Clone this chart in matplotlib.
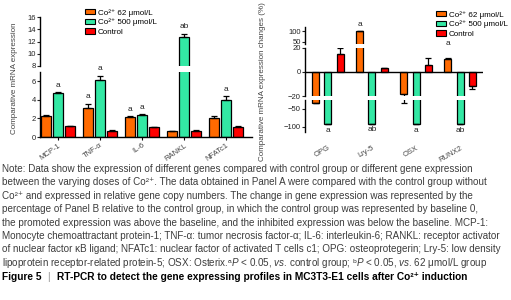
import matplotlib
matplotlib.use('Agg')
import matplotlib.pyplot as plt
from matplotlib.patches import Patch
import numpy as np

plt.rcParams['font.family'] = ['Liberation Sans', 'DejaVu Sans']
plt.rcParams['mathtext.fontset'] = 'custom'
plt.rcParams['mathtext.rm'] = 'Liberation Sans'
plt.rcParams['mathtext.it'] = 'Liberation Sans:italic'
plt.rcParams['mathtext.bf'] = 'Liberation Sans:bold'

# Panel A: relative copy numbers
genes_a = ['MCP-1', 'TNF-α', 'IL-6', 'RANKL', 'NFATc1']
a_low = [2.3, 3.1, 2.2, 0.6, 2.1]
a_low_err = [0.1, 0.5, 0.05, 0.03, 0.12]
a_high = [4.7, 6.1, 2.4, 12.7, 4.0]
a_high_err = [0.12, 0.5, 0.05, 0.6, 0.4]
a_ctrl = [1.15, 0.7, 1.05, 0.7, 1.1]
a_ctrl_err = [0.05, 0.03, 0.05, 0.05, 0.12]
a_sig_low = ['', 'a', 'a', '', '']
a_sig_high = ['a', 'a', 'a', 'ab', 'a']

# Panel B: % change vs control
genes_b = ['OPG', 'Lry-5', 'OSX', 'RUNX2']
b_low = [-33, 100, -18, 11]
b_low_err = [1.5, 0, 15, 0.7]
b_high = [-93, -92, -93, -93]
b_high_err = [0, 0, 0, 0]
b_ctrl = [15, 3, 6, -12]
b_ctrl_err = [5, 0.5, 6, 2]
b_sig_low = ['', 'a', '', 'a']
b_sig_high = ['a', 'ab', 'a', 'ab']

series_labels = ['Co²⁺ 62 μmol/L', 'Co²⁺ 500 μmol/L', 'Control']
colors = ['#ff6a00', '#33e8a4', '#ff0000']

W, H = 511, 300
fig = plt.figure(figsize=(W / 100, H / 100), dpi=100)


def add_ax(x0, x1, ytop, ybot):
    return fig.add_axes([x0 / W, 1 - ybot / H, (x1 - x0) / W, (ybot - ytop) / H])


def style(ax, bottom=False):
    for s in ['top', 'right']:
        ax.spines[s].set_visible(False)
    ax.spines['bottom'].set_visible(bottom)
    ax.spines['left'].set_linewidth(1.0)
    ax.spines['bottom'].set_linewidth(1.0)
    ax.tick_params(axis='y', labelsize=5.5, length=2, width=0.8, pad=1, colors='#222222')
    ax.patch.set_alpha(0)


def draw_bars(ax, x, vals, errs, color, width, capsize):
    ax.bar(x, vals, width, color=color, edgecolor='black', linewidth=0.9, zorder=2)
    vals = np.array(vals, dtype=float)
    errs = np.array(errs, dtype=float)
    lower = np.where(vals < 0, errs, 0)
    upper = np.where(vals >= 0, errs, 0)
    ax.errorbar(x, vals, yerr=[lower, upper], fmt='none', ecolor='black',
                elinewidth=0.9, capsize=capsize, capthick=0.9, zorder=3)


def small_legend(ax, x, y):
    ax.legend(handles=[Patch(facecolor=c, edgecolor='black', linewidth=0.8) for c in colors],
              labels=series_labels, loc='upper left', bbox_to_anchor=(x / W, 1 - y / H),
              bbox_transform=fig.transFigure, frameon=False, fontsize=5.8,
              handlelength=1.2, handleheight=0.6, handletextpad=0.4,
              labelspacing=0.25, borderpad=0, borderaxespad=0)


# ---------------- Panel A ----------------
ax_a_top = add_ax(40, 252, 17, 66)
ax_a_bot = add_ax(40, 252, 72, 137)
xa = np.arange(len(genes_a))
wa = 0.23
off_a = 0.28
for ax in (ax_a_top, ax_a_bot):
    for i, (v, e) in enumerate([(a_low, a_low_err), (a_high, a_high_err), (a_ctrl, a_ctrl_err)]):
        draw_bars(ax, xa + (i - 1) * off_a, v, e, colors[i], wa, 2.5)
    ax.set_xlim(-0.43, 4.62)

ax_a_top.set_ylim(8, 16)
ax_a_top.set_yticks([8, 10, 12, 14, 16])
ax_a_top.set_xticks([])
style(ax_a_top)
ax_a_bot.set_ylim(0, 7)
ax_a_bot.set_yticks([0, 2, 4, 6])
style(ax_a_bot, bottom=True)
ax_a_bot.set_xticks(xa)
ax_a_bot.set_xticklabels(genes_a, rotation=35, ha='right', rotation_mode='anchor',
                         fontsize=5.5, color='#444444')
ax_a_bot.tick_params(axis='x', length=2, width=0.8, pad=1.5)

for i in range(len(genes_a)):
    for j, (vals, errs, sig) in enumerate([(a_low, a_low_err, a_sig_low),
                                           (a_high, a_high_err, a_sig_high)]):
        if sig[i]:
            y = vals[i] + errs[i]
            ax = ax_a_top if y > 7 else ax_a_bot
            ax.annotate(sig[i], (xa[i] + (j - 1) * off_a, y), xytext=(0, 2.5),
                        textcoords='offset points', ha='center', va='bottom',
                        fontsize=6, color='#222222', annotation_clip=False)

fig.text(15 / W, 1 - 78 / H, 'Comparative mRNA expression', rotation=90,
         ha='center', va='center', fontsize=5.8, color='#444444')

small_legend(ax_a_top, 85, 9)

# ---------------- Panel B ----------------
ax_b_top = add_ax(305, 483, 27, 44)
ax_b_mid = add_ax(305, 483, 48, 96)
ax_b_bot = add_ax(305, 483, 100, 132)
xb = np.arange(len(genes_b))
wb = 0.16
off_b = 0.28
for ax in (ax_b_top, ax_b_mid, ax_b_bot):
    for i, (v, e) in enumerate([(b_low, b_low_err), (b_high, b_high_err), (b_ctrl, b_ctrl_err)]):
        draw_bars(ax, xb + (i - 1) * off_b, v, e, colors[i], wb, 2.0)
    ax.set_xlim(-0.52, 3.52)
    style(ax)
    ax.set_xticks([])

ax_b_top.set_ylim(39, 119)
ax_b_top.set_yticks([50, 100])
ax_b_mid.set_ylim(-20, 20)
ax_b_mid.set_yticks([-20, 0, 20])
ax_b_mid.axhline(0, color='black', linewidth=1.0, zorder=4)
ax_b_bot.set_ylim(-114, -25)
ax_b_bot.set_yticks([-50, -100])
ax_b_bot.set_xticks(xb)
ax_b_bot.set_xticklabels(genes_b, rotation=30, ha='right', rotation_mode='anchor',
                         fontsize=5.5, color='#444444')
ax_b_bot.tick_params(axis='x', length=0, pad=9)

for i in range(len(genes_b)):
    if b_sig_low[i]:
        ax_b_top.annotate(b_sig_low[i], (xb[i] - off_b, b_low[i] + b_low_err[i]),
                          xytext=(0, 2), textcoords='offset points', ha='center',
                          va='bottom', fontsize=6, color='#222222', annotation_clip=False)
    if b_sig_high[i]:
        ax_b_bot.annotate(b_sig_high[i], (xb[i], b_high[i] - b_high_err[i]),
                          xytext=(0, -1.5), textcoords='offset points', ha='center',
                          va='top', fontsize=6, color='#222222', annotation_clip=False)

fig.text(262 / W, 1 - 82 / H, 'Comparative mRNA expression changes (%)', rotation=90,
         ha='center', va='center', fontsize=5.8, color='#444444')

small_legend(ax_b_top, 436, 11)

# ---------------- Note and caption ----------------
note_lines = [
    'Note: Data show the expression of different genes compared with control group or different gene expression',
    'between the varying doses of Co²⁺. The data obtained in Panel A were compared with the control group without',
    'Co²⁺ and expressed in relative gene copy numbers. The change in gene expression was represented by the',
    'percentage of Panel B relative to the control group, in which the control group was represented by baseline 0,',
    'the promoted expression was above the baseline, and the inhibited expression was below the baseline. MCP-1:',
    'Monocyte chemoattractant protein-1; TNF-α: tumor necrosis factor-α; IL-6: interleukin-6; RANKL: receptor activator',
    'of nuclear factor κB ligand; NFATc1: nuclear factor of activated T cells c1; OPG: osteoprotegerin; Lry-5: low density',
    'lipoprotein receptor-related protein-5; OSX: Osterix.ᵃ$P$ < 0.05, $vs$. control group; ᵇ$P$ < 0.05, $vs$. 62 μmol/L group',
]
for k, line in enumerate(note_lines):
    fig.text(2 / W, 1 - (169 + k * 13.4) / H, line, ha='left', va='center',
             fontsize=7.15, color='#3c3c3c')

fig.text(2 / W, 1 - 277 / H, 'Figure 5', ha='left', va='center',
         fontsize=7.3, fontweight='bold', color='black')
fig.text(47 / W, 1 - 277 / H, '|', ha='left', va='center', fontsize=7.3, color='#999999')
fig.text(57 / W, 1 - 277 / H,
         'RT-PCR to detect the gene expressing profiles in MC3T3-E1 cells after Co²⁺ induction',
         ha='left', va='center', fontsize=7.3, fontweight='bold', color='black')

fig.savefig('out.png', dpi=100)
